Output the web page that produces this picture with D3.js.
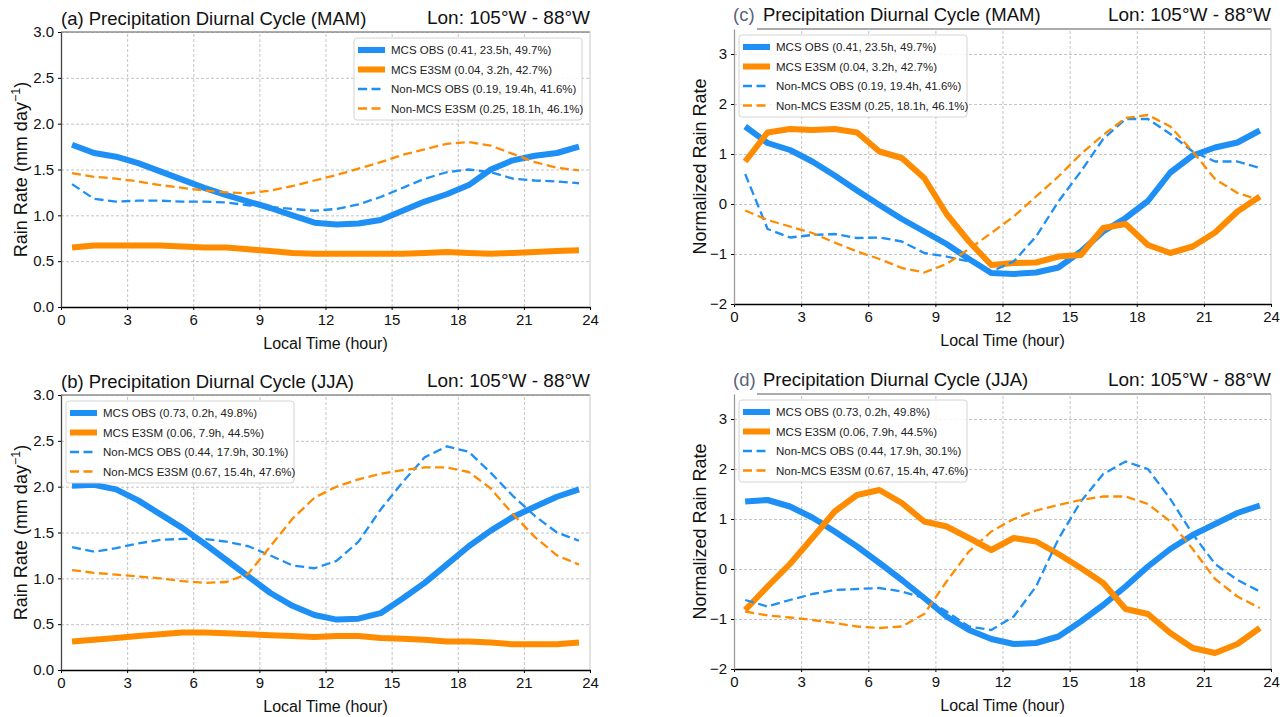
<!DOCTYPE html>
<html>
<head>
<meta charset="utf-8">
<script src="https://cdn.jsdelivr.net/npm/d3@7"></script>
<style>
  body { margin: 0; background: #fff; }
  svg { display: block; font-family: "Liberation Sans", Arial, sans-serif; }
</style>
</head>
<body>
<svg id="fig" width="1288" height="717"></svg>
<script>
// local hour at bin centres
var hours = [0.5, 1.5, 2.5, 3.5, 4.5, 5.5, 6.5, 7.5, 8.5, 9.5, 10.5, 11.5,
  12.5, 13.5, 14.5, 15.5, 16.5, 17.5, 18.5, 19.5, 20.5, 21.5, 22.5, 23.5];
var xTicks = [0, 3, 6, 9, 12, 15, 18, 21, 24];
var rateTicks = [0, 0.5, 1, 1.5, 2, 2.5, 3];
var normTicks = [-2, -1, 0, 1, 2, 3];

// (a) MAM rain rate, mm/day
var mamMcsObs = [1.77, 1.68, 1.64, 1.57, 1.48, 1.39, 1.30, 1.22, 1.15, 1.08, 1.00, 0.92,
  0.90, 0.91, 0.95, 1.05, 1.15, 1.23, 1.33, 1.50, 1.60, 1.65, 1.68, 1.75];
var mamMcsE3sm = [0.65, 0.67, 0.67, 0.67, 0.67, 0.66, 0.65, 0.65, 0.63, 0.61, 0.59, 0.58,
  0.58, 0.58, 0.58, 0.58, 0.59, 0.60, 0.59, 0.58, 0.59, 0.60, 0.61, 0.62];
var mamNonObs = [1.34, 1.18, 1.15, 1.16, 1.16, 1.15, 1.15, 1.14, 1.11, 1.09, 1.07, 1.05,
  1.07, 1.12, 1.20, 1.30, 1.40, 1.47, 1.50, 1.47, 1.40, 1.38, 1.37, 1.35];
var mamNonE3sm = [1.46, 1.42, 1.40, 1.37, 1.33, 1.30, 1.27, 1.25, 1.24, 1.27, 1.32, 1.38,
  1.44, 1.51, 1.58, 1.66, 1.72, 1.78, 1.80, 1.76, 1.67, 1.58, 1.52, 1.49];

// (b) JJA rain rate, mm/day
var jjaMcsObs = [2.01, 2.02, 1.97, 1.85, 1.70, 1.55, 1.38, 1.20, 1.02, 0.84, 0.70, 0.60,
  0.55, 0.56, 0.62, 0.78, 0.95, 1.15, 1.35, 1.52, 1.67, 1.78, 1.89, 1.97];
var jjaMcsE3sm = [0.31, 0.33, 0.35, 0.37, 0.39, 0.41, 0.41, 0.40, 0.39, 0.38, 0.37, 0.36,
  0.37, 0.37, 0.35, 0.34, 0.33, 0.31, 0.31, 0.30, 0.28, 0.28, 0.28, 0.30];
var jjaNonObs = [1.34, 1.29, 1.33, 1.38, 1.42, 1.43, 1.43, 1.40, 1.35, 1.25, 1.14, 1.11,
  1.19, 1.40, 1.75, 2.05, 2.32, 2.44, 2.38, 2.15, 1.90, 1.68, 1.50, 1.41];
var jjaNonE3sm = [1.09, 1.06, 1.04, 1.02, 1.00, 0.97, 0.95, 0.96, 1.05, 1.35, 1.65, 1.88,
  2.00, 2.08, 2.14, 2.18, 2.21, 2.21, 2.16, 1.98, 1.70, 1.45, 1.25, 1.15];

// (c) MAM normalized rain rate
var mamNormMcsObs = [1.55, 1.22, 1.08, 0.85, 0.57, 0.27, -0.02, -0.30, -0.55, -0.80, -1.10, -1.38,
  -1.40, -1.37, -1.27, -0.95, -0.55, -0.28, 0.06, 0.63, 0.97, 1.13, 1.23, 1.47];
var mamNormMcsE3sm = [0.85, 1.43, 1.50, 1.48, 1.50, 1.43, 1.05, 0.92, 0.52, -0.20, -0.75, -1.22,
  -1.18, -1.17, -1.05, -1.02, -0.48, -0.40, -0.82, -0.98, -0.85, -0.57, -0.15, 0.15];
var mamNormNonObs = [0.60, -0.50, -0.67, -0.62, -0.60, -0.68, -0.67, -0.75, -0.98, -1.05, -1.15, -1.35,
  -1.15, -0.65, 0.05, 0.65, 1.30, 1.70, 1.70, 1.40, 1.05, 0.85, 0.85, 0.72];
var mamNormNonE3sm = [-0.13, -0.32, -0.45, -0.58, -0.77, -0.95, -1.10, -1.28, -1.37, -1.20, -0.90, -0.58,
  -0.25, 0.15, 0.55, 1.00, 1.38, 1.72, 1.78, 1.55, 1.05, 0.50, 0.22, 0.08];

// (d) JJA normalized rain rate
var jjaNormMcsObs = [1.35, 1.38, 1.25, 1.03, 0.75, 0.45, 0.12, -0.22, -0.58, -0.95, -1.22, -1.40,
  -1.50, -1.48, -1.35, -1.05, -0.72, -0.35, 0.05, 0.40, 0.68, 0.90, 1.12, 1.27];
var jjaNormMcsE3sm = [-0.82, -0.35, 0.10, 0.62, 1.15, 1.48, 1.58, 1.32, 0.95, 0.85, 0.62, 0.38,
  0.62, 0.55, 0.30, 0.02, -0.28, -0.80, -0.90, -1.28, -1.58, -1.68, -1.50, -1.18];
var jjaNormNonObs = [-0.62, -0.75, -0.62, -0.50, -0.42, -0.40, -0.38, -0.45, -0.58, -0.85, -1.15, -1.22,
  -0.95, -0.35, 0.60, 1.35, 1.90, 2.15, 2.00, 1.40, 0.70, 0.10, -0.22, -0.45];
var jjaNormNonE3sm = [-0.85, -0.93, -0.97, -1.02, -1.08, -1.15, -1.18, -1.15, -0.90, -0.25, 0.35, 0.75,
  1.00, 1.17, 1.28, 1.38, 1.45, 1.45, 1.30, 0.95, 0.40, -0.20, -0.55, -0.78];

var mamLegend = ['MCS OBS (0.41, 23.5h, 49.7%)', 'MCS E3SM (0.04, 3.2h, 42.7%)',
  'Non-MCS OBS (0.19, 19.4h, 41.6%)', 'Non-MCS E3SM (0.25, 18.1h, 46.1%)'];
var jjaLegend = ['MCS OBS (0.73, 0.2h, 49.8%)', 'MCS E3SM (0.06, 7.9h, 44.5%)',
  'Non-MCS OBS (0.44, 17.9h, 30.1%)', 'Non-MCS E3SM (0.67, 15.4h, 47.6%)'];

var BLUE = '#1e8ff5';
var ORANGE = '#ff8c00';
var styles = [
  { color: BLUE, width: 6, dash: null },
  { color: ORANGE, width: 6, dash: null },
  { color: BLUE, width: 2.3, dash: '9,4.5' },
  { color: ORANGE, width: 2.3, dash: '9,4.5' }
];

var svg = d3.select('#fig');

var drawPanel = function(p) {
  var g = svg.append('g');
  var x = d3.scaleLinear().domain([0, 24]).range([p.left, p.right]);
  var y = d3.scaleLinear().domain(p.yDomain).range([p.bottom, p.top]);
  var h = p.bottom - p.top;
  var w = p.right - p.left;

  var gridStyle = function(s) {
    s.select('.domain').remove();
    s.selectAll('line').attr('stroke', '#b5b5b5').attr('stroke-width', 0.8).attr('stroke-dasharray', '3,2');
  };

  g.append('g')
    .attr('transform', 'translate(0,' + p.bottom + ')')
    .call(d3.axisBottom(x).tickValues(xTicks.slice(1, -1)).tickSize(-h).tickFormat(''))
    .call(gridStyle);

  g.append('g')
    .attr('transform', 'translate(' + p.left + ',0)')
    .call(d3.axisLeft(y).tickValues(p.yTicks).tickSize(-w).tickFormat(''))
    .call(gridStyle);

  // gray top/right frame (top-left corner of c/d is hidden under the panel tag)
  g.append('line').attr('x1', p.left + (p.tag ? 23 : 0)).attr('x2', p.right)
    .attr('y1', p.top).attr('y2', p.top).attr('stroke', '#8f8f8f').attr('stroke-width', 1.5);
  g.append('line').attr('x1', p.right).attr('x2', p.right)
    .attr('y1', p.top).attr('y2', p.bottom).attr('stroke', '#c8c8c8').attr('stroke-width', 1);

  var line = d3.line()
    .x(function(d, i) { return x(hours[i]); })
    .y(function(d) { return y(d); });

  p.series.forEach(function(vals, idx) {
    var st = styles[idx];
    g.append('path')
      .datum(vals)
      .attr('fill', 'none')
      .attr('stroke', st.color)
      .attr('stroke-width', st.width)
      .attr('stroke-linejoin', 'round')
      .attr('stroke-dasharray', st.dash)
      .attr('d', line);
  });

  var xAxis = g.append('g')
    .attr('transform', 'translate(0,' + p.bottom + ')')
    .call(d3.axisBottom(x).tickValues(xTicks).tickSize(3).tickSizeOuter(0).tickPadding(4).tickFormat(d3.format('d')));
  xAxis.select('.domain').attr('stroke', '#000').attr('stroke-width', 1.5);
  xAxis.selectAll('text').attr('font-size', 15).attr('fill', '#111').attr('font-family', null);

  var yAxis = g.append('g')
    .attr('transform', 'translate(' + p.left + ',0)')
    .call(d3.axisLeft(y).tickValues(p.yTicks).tickSize(3).tickSizeOuter(0).tickPadding(4).tickFormat(p.yFormat));
  yAxis.select('.domain').attr('stroke', p.tag ? '#9a9a9a' : '#444').attr('stroke-width', 1.3);
  yAxis.selectAll('text').attr('font-size', 15).attr('fill', '#111').attr('font-family', null);

  // legend
  var lw = 228, lh = 82, rowH = 19.5;
  var lx = p.legendRight ? p.right - 8 - lw : p.left + 5;
  var ly = p.top + 6;
  var leg = g.append('g').attr('transform', 'translate(' + lx + ',' + ly + ')');
  leg.append('rect').attr('width', lw).attr('height', lh).attr('rx', 3)
    .attr('fill', '#fff').attr('fill-opacity', 0.85).attr('stroke', '#d4d4d4');
  p.labels.forEach(function(lab, idx) {
    var st = styles[idx];
    var ry = 12 + idx * rowH;
    leg.append('line').attr('x1', 4).attr('x2', 31).attr('y1', ry).attr('y2', ry)
      .attr('stroke', st.color).attr('stroke-width', st.width).attr('stroke-dasharray', st.dash);
    leg.append('text').attr('x', 37).attr('y', ry + 4).attr('font-size', 11.5).attr('fill', '#222').text(lab);
  });

  // titles
  if (p.tag) {
    g.append('text').attr('x', p.left - 1).attr('y', p.top - 8).attr('font-size', 18.5)
      .attr('fill', '#5a6278').text(p.tag);
    g.append('text').attr('x', p.left + 29).attr('y', p.top - 8).attr('font-size', 18.5)
      .attr('fill', '#111').text(p.title);
  } else {
    g.append('text').attr('x', p.left).attr('y', p.top - 7).attr('font-size', 18.5)
      .attr('fill', '#111').text(p.title);
  }
  g.append('text').attr('x', p.right).attr('y', p.top - 8).attr('text-anchor', 'end')
    .attr('font-size', 19).attr('fill', '#111').text('Lon: 105°W - 88°W');

  g.append('text').attr('x', (p.left + p.right) / 2).attr('y', p.bottom + 42)
    .attr('text-anchor', 'middle').attr('font-size', 16).attr('fill', '#111').text('Local Time (hour)');

  var yl = g.append('text')
    .attr('transform', 'translate(' + p.yLabelX + ',' + ((p.top + p.bottom) / 2) + ') rotate(-90)')
    .attr('text-anchor', 'middle').attr('font-size', 18).attr('fill', '#111');
  if (p.norm) {
    yl.text('Normalized Rain Rate');
  } else {
    yl.append('tspan').text('Rain Rate (mm day');
    yl.append('tspan').attr('font-size', 12.5).attr('dy', -7).text('−1');
    yl.append('tspan').attr('dy', 7).text(')');
  }
};

drawPanel({
  left: 61, right: 590, top: 32, bottom: 307,
  yDomain: [0, 3], yTicks: rateTicks, yFormat: d3.format('.1f'),
  series: [mamMcsObs, mamMcsE3sm, mamNonObs, mamNonE3sm],
  labels: mamLegend, legendRight: true,
  title: '(a) Precipitation Diurnal Cycle (MAM)', yLabelX: 27
});

drawPanel({
  left: 61, right: 590, top: 395, bottom: 670,
  yDomain: [0, 3], yTicks: rateTicks, yFormat: d3.format('.1f'),
  series: [jjaMcsObs, jjaMcsE3sm, jjaNonObs, jjaNonE3sm],
  labels: jjaLegend, legendRight: false,
  title: '(b) Precipitation Diurnal Cycle (JJA)', yLabelX: 27
});

drawPanel({
  left: 734, right: 1271, top: 29, bottom: 304,
  yDomain: [-2, 3.5], yTicks: normTicks, yFormat: d3.format('d'),
  series: [mamNormMcsObs, mamNormMcsE3sm, mamNormNonObs, mamNormNonE3sm],
  labels: mamLegend, legendRight: false, norm: true,
  tag: '(c)', title: 'Precipitation Diurnal Cycle (MAM)', yLabelX: 706
});

drawPanel({
  left: 734, right: 1271, top: 394, bottom: 669,
  yDomain: [-2, 3.5], yTicks: normTicks, yFormat: d3.format('d'),
  series: [jjaNormMcsObs, jjaNormMcsE3sm, jjaNormNonObs, jjaNormNonE3sm],
  labels: jjaLegend, legendRight: false, norm: true,
  tag: '(d)', title: 'Precipitation Diurnal Cycle (JJA)', yLabelX: 706
});
</script>
</body>
</html>
